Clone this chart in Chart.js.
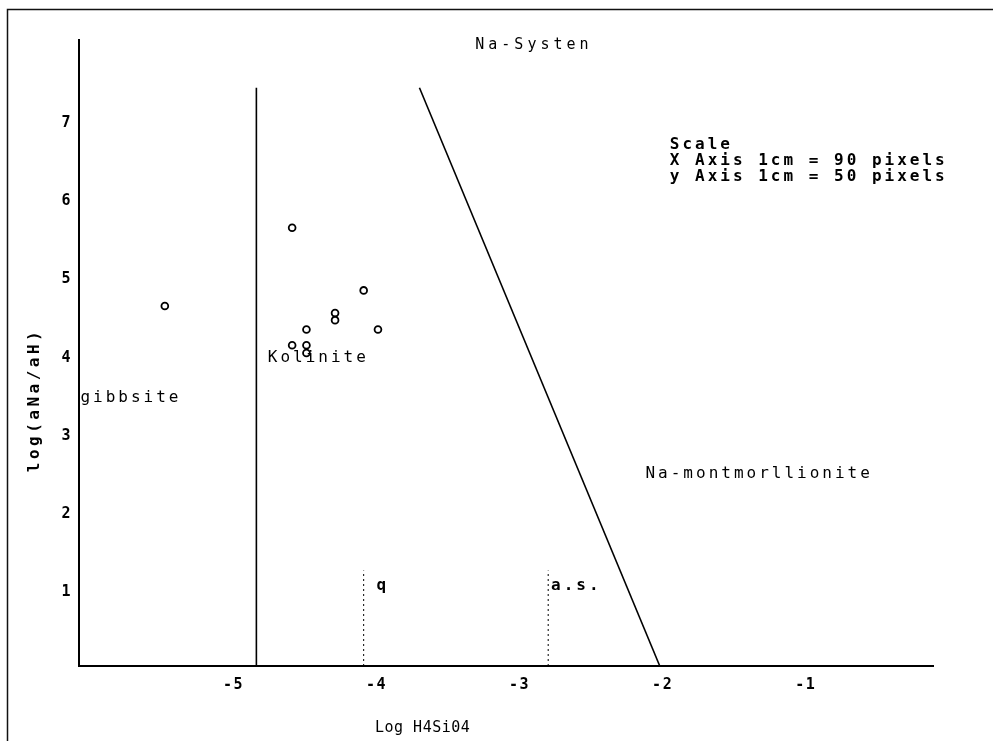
<!DOCTYPE html>
<html><head><meta charset="utf-8">
<script src="https://cdn.jsdelivr.net/npm/chart.js@4"></script>
<style>html,body{margin:0;padding:0;background:#fff;overflow:hidden}#wrap{width:993px;height:741px;position:relative}</style>
</head><body><div id="wrap"><canvas id="c" width="993" height="741"></canvas></div>
<script>
// ---- data ----
const xTickValues = [-5, -4, -3, -2, -1];
const xTickLabels = ['-5', '-4', '-3', '-2', '-1'];
const yTickValues = [1, 2, 3, 4, 5, 6, 7];
const yTickLabels = ['1', '2', '3', '4', '5', '6', '7'];
const xRange = [-6.08, -0.11];
const yRange = [0.06, 8.06];

const sampleX = [-5.48, -4.59, -4.09, -4.29, -4.29, -4.49, -3.99, -4.59, -4.49, -4.49];
const sampleY = [4.66, 5.66, 4.86, 4.57, 4.48, 4.36, 4.36, 4.16, 4.16, 4.06];

const gibbsiteKaoliniteX = [-4.84, -4.84];
const gibbsiteKaoliniteY = [0.06, 7.45];
const kaoliniteMontX = [-3.70, -2.02];
const kaoliniteMontY = [7.45, 0.06];
const quartzX = [-4.09, -4.09];
const quartzY = [0.06, 1.28];
const amorphSilicaX = [-2.80, -2.80];
const amorphSilicaY = [0.06, 1.28];

const titleText = 'Na-Systen';
const xTitle = 'Log H4Si04';
const yTitle = 'log(aNa/aH)';
const fieldLabels = ['Kolinite', 'gibbsite', 'q', 'a.s.', 'Na-montmorllionite'];
const fieldLabelX = [-4.76, -6.07, -4.00, -2.78, -2.12];
const fieldLabelY = [4.00, 3.49, 1.08, 1.08, 2.51];
const scaleLines = ['Scale', 'X Axis 1cm = 90 pixels', 'y Axis 1cm = 50 pixels'];
const scaleLineY = [6.72, 6.51, 6.31];
const scaleLineX = -1.95;

const zip = (xs, ys) => xs.map((x, i) => ({x: x, y: ys[i]}));

const MONO = '"DejaVu Sans Mono", "Liberation Mono", monospace';

const textPlugin = {
  id: 'texts',
  beforeDraw(chart) {
    const ctx = chart.ctx;
    ctx.save();
    ctx.fillStyle = '#fff';
    ctx.fillRect(0, 0, chart.width, chart.height);
    ctx.strokeStyle = '#111';
    ctx.lineWidth = 1.5;
    ctx.beginPath();
    ctx.moveTo(7.5, 741);
    ctx.lineTo(7.5, 9.5);
    ctx.lineTo(993, 9.5);
    ctx.stroke();
    ctx.restore();
    ctx.letterSpacing = '1.5px';
  },
  afterDatasetsDraw(chart) {
    const ctx = chart.ctx;
    const xs = chart.scales.x, ys = chart.scales.y;
    const ca = chart.chartArea;
    ctx.save();
    ctx.fillStyle = '#000';
    ctx.textBaseline = 'middle';

    // title
    ctx.font = '15px ' + MONO;
    ctx.letterSpacing = '4px';
    ctx.textAlign = 'center';
    ctx.fillText(titleText, xs.getPixelForValue(-2.90), ys.getPixelForValue(8.0));

    // field labels
    ctx.letterSpacing = '3px';
    ctx.textAlign = 'left';
    fieldLabels.forEach((t, i) => {
      ctx.font = (t === 'q' || t === 'a.s.') ? 'bold 16px ' + MONO : '16px ' + MONO;
      ctx.fillText(t, xs.getPixelForValue(fieldLabelX[i]), ys.getPixelForValue(fieldLabelY[i]));
    });

    // scale block
    ctx.font = 'bold 16px ' + MONO;
    ctx.letterSpacing = '3px';
    scaleLines.forEach((t, i) => {
      ctx.fillText(t, xs.getPixelForValue(scaleLineX), ys.getPixelForValue(scaleLineY[i]));
    });

    // axis titles
    ctx.font = '15px ' + MONO;
    ctx.letterSpacing = '0.5px';
    ctx.textAlign = 'left';
    ctx.fillText(xTitle, ca.left + 296, ca.bottom + 62);

    ctx.font = 'bold 16px ' + MONO;
    ctx.letterSpacing = '3.5px';
    ctx.translate(ca.left - 44, ca.top + 360);
    ctx.rotate(-Math.PI / 2);
    ctx.textAlign = 'center';
    ctx.fillText(yTitle, 0, 0);
    ctx.restore();
  },
  afterDraw(chart) {
    chart.ctx.letterSpacing = '0px';
  }
};

const lineStyle = (data, dashed) => ({
  type: 'scatter',
  data: data,
  showLine: true,
  borderColor: '#000',
  borderWidth: dashed ? 1 : 1.6,
  borderDash: dashed ? [2, 3] : [],
  pointRadius: 0,
  fill: false
});

new Chart(document.getElementById('c'), {
  type: 'scatter',
  data: {
    datasets: [
      lineStyle(zip(gibbsiteKaoliniteX, gibbsiteKaoliniteY), false),
      lineStyle(zip(kaoliniteMontX, kaoliniteMontY), false),
      lineStyle(zip(quartzX, quartzY), true),
      lineStyle(zip(amorphSilicaX, amorphSilicaY), true),
      {
        type: 'scatter',
        data: zip(sampleX, sampleY),
        pointStyle: 'circle',
        pointRadius: 3.4,
        pointBorderWidth: 1.8,
        pointBorderColor: '#000',
        pointBackgroundColor: '#fff',
        showLine: false
      }
    ]
  },
  options: {
    responsive: false,
    animation: false,
    events: [],
    layout: {padding: {top: 40, right: 60, bottom: 0, left: 0}},
    plugins: {legend: {display: false}, tooltip: {enabled: false}, title: {display: false}},
    scales: {
      x: {
        type: 'linear',
        min: xRange[0], max: xRange[1],
        afterBuildTicks: s => { s.ticks = xTickValues.map(v => ({value: v})); },
        afterFit: s => { s.height = 75; },
        ticks: {
          callback: (v, i) => xTickLabels[i],
          color: '#000',
          font: {family: MONO, size: 15, weight: 'bold'},
          padding: 10,
          maxRotation: 0,
          autoSkip: false
        },
        grid: {display: false, drawTicks: false},
        border: {display: true, color: '#000', width: 2}
      },
      y: {
        type: 'linear',
        min: yRange[0], max: yRange[1],
        afterBuildTicks: s => { s.ticks = yTickValues.map(v => ({value: v})); },
        afterFit: s => { s.width = 79; },
        ticks: {
          callback: (v, i) => yTickLabels[i],
          color: '#000',
          font: {family: MONO, size: 15, weight: 'bold'},
          padding: 7,
          autoSkip: false
        },
        grid: {display: false, drawTicks: false},
        border: {display: true, color: '#000', width: 2}
      }
    }
  },
  plugins: [textPlugin]
});
</script></body></html>
